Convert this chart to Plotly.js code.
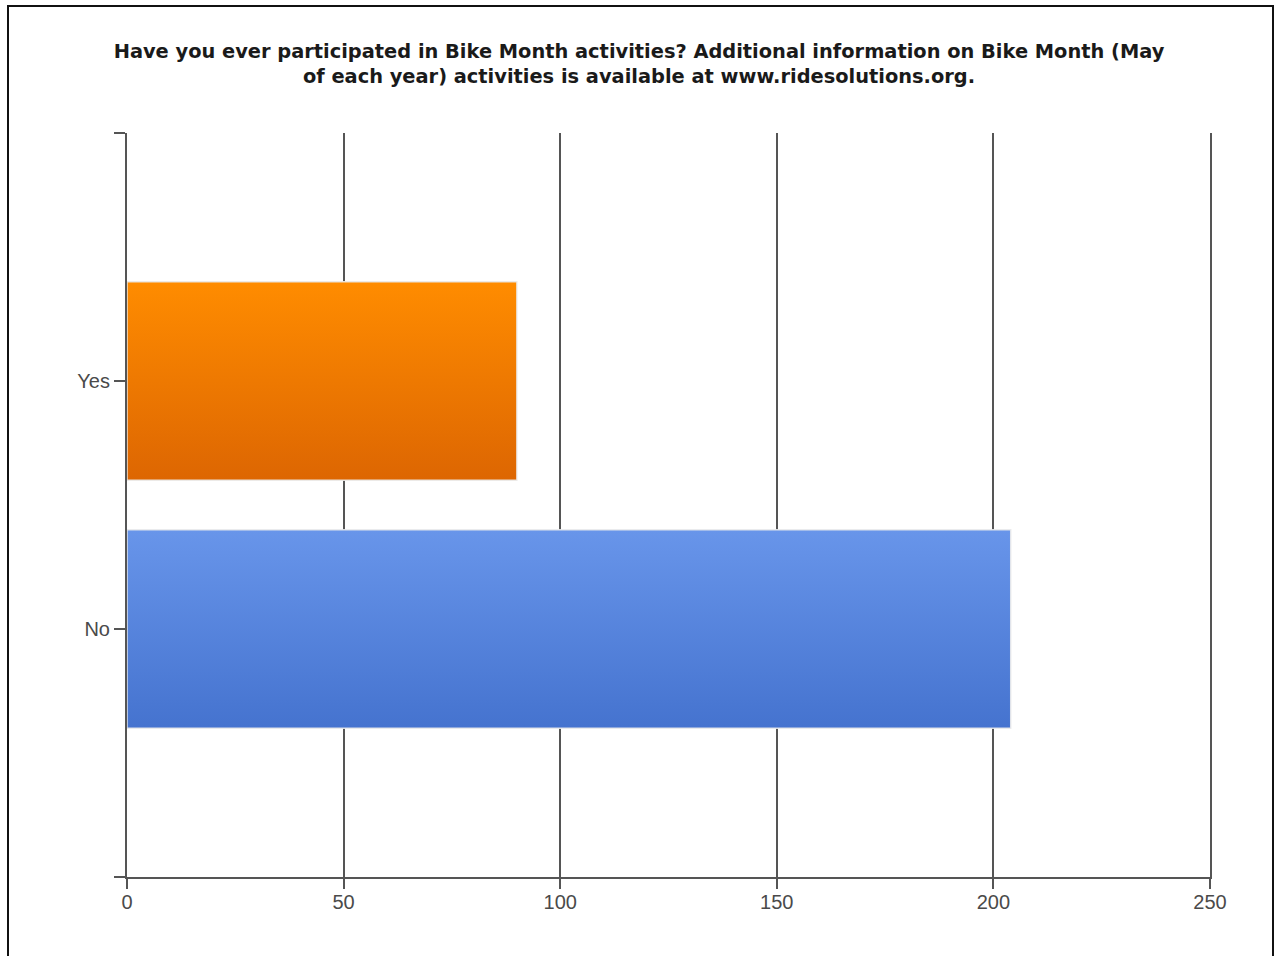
<!DOCTYPE html>
<html>
<head>
<meta charset="utf-8">
<script src="https://cdn.plot.ly/plotly-3.0.1.min.js"></script>
<style>
  html, body { margin: 0; padding: 0; background: #ffffff; overflow: hidden; }
  #frame { position: absolute; left: 7px; top: 5px; width: 1267px; height: 1000px; border: 2px solid #111; box-sizing: border-box; }
  #chart { position: absolute; left: 0; top: 0; width: 1278px; height: 956px; }
</style>
</head>
<body>
<div id="frame"></div>
<div id="chart"></div>
<script>
const categories = ["No", "Yes"];
const counts = [204, 90];
const barColors = ["#5686e0", "#ee7a02"];
const xTicks = [0, 50, 100, 150, 200, 250];
const titleText = "Have you ever participated in Bike Month activities? Additional information on Bike Month (May<br>of each year) activities is available at www.ridesolutions.org.";

const positions = categories.map((c, i) => i);

const trace = {
  type: "bar",
  orientation: "h",
  x: counts,
  y: positions,
  width: 0.8,
  marker: { color: barColors, line: { color: "rgba(235,235,235,0.9)", width: 1.5 } },
  hoverinfo: "x+text",
  text: categories,
  textposition: "none"
};

const tickFont = { family: "Liberation Sans, Arial, sans-serif", size: 20, color: "#4a4a4a" };

const layout = {
  width: 1278,
  height: 956,
  paper_bgcolor: "rgba(0,0,0,0)",
  plot_bgcolor: "rgba(0,0,0,0)",
  margin: { l: 127, r: 68, t: 133, b: 79 },
  showlegend: false,
  title: {
    text: titleText,
    x: 0.5, xanchor: "center",
    xref: "container",
    y: 1 - 58 / 956, yref: "container", yanchor: "middle",
    font: { family: "DejaVu Sans, Verdana, sans-serif", size: 19.4, color: "#1a1a1a", weight: "bold" }
  },
  xaxis: {
    range: [0, 250],
    tickmode: "array",
    tickvals: xTicks,
    ticktext: xTicks.map(String),
    showgrid: true,
    gridcolor: "#555",
    gridwidth: 2,
    zeroline: false,
    showline: true,
    linecolor: "#555",
    linewidth: 2,
    ticks: "outside",
    ticklen: 10,
    tickwidth: 2,
    tickcolor: "#555",
    ticklabelstandoff: -4,
    tickfont: tickFont,
    fixedrange: true
  },
  yaxis: {
    range: [-1, 2],
    tickmode: "array",
    tickvals: [-1].concat(positions, [categories.length]),
    ticktext: [""].concat(categories, [""]),
    showgrid: false,
    zeroline: false,
    showline: true,
    mirror: true,
    linecolor: "#555",
    linewidth: 2,
    ticks: "outside",
    ticklen: 11,
    tickwidth: 2,
    tickcolor: "#555",
    tickfont: tickFont,
    fixedrange: true
  },
  bargap: 0.2
};

Plotly.newPlot("chart", [trace], layout, { displayModeBar: false, staticPlot: true }).then(function (gd) {
  // vertical gradient fills on the bars, as in the original
  const svg = gd.querySelector("svg.main-svg");
  const ns = "http://www.w3.org/2000/svg";
  let defs = svg.querySelector("defs");
  if (!defs) { defs = document.createElementNS(ns, "defs"); svg.insertBefore(defs, svg.firstChild); }
  const grads = [
    { id: "gradNo", top: "#6895ea", bottom: "#4573cf" },
    { id: "gradYes", top: "#ff8c00", bottom: "#dd6602" }
  ];
  grads.forEach(g => {
    const lg = document.createElementNS(ns, "linearGradient");
    lg.setAttribute("id", g.id);
    lg.setAttribute("x1", "0"); lg.setAttribute("y1", "0");
    lg.setAttribute("x2", "0"); lg.setAttribute("y2", "1");
    [[0, g.top], [1, g.bottom]].forEach(s => {
      const st = document.createElementNS(ns, "stop");
      st.setAttribute("offset", String(s[0]));
      st.setAttribute("stop-color", s[1]);
      lg.appendChild(st);
    });
    defs.appendChild(lg);
  });
  const paths = gd.querySelectorAll(".barlayer .point path");
  paths.forEach((p, i) => { p.style.fill = "url(#" + grads[i].id + ")"; });
});
</script>
</body>
</html>
